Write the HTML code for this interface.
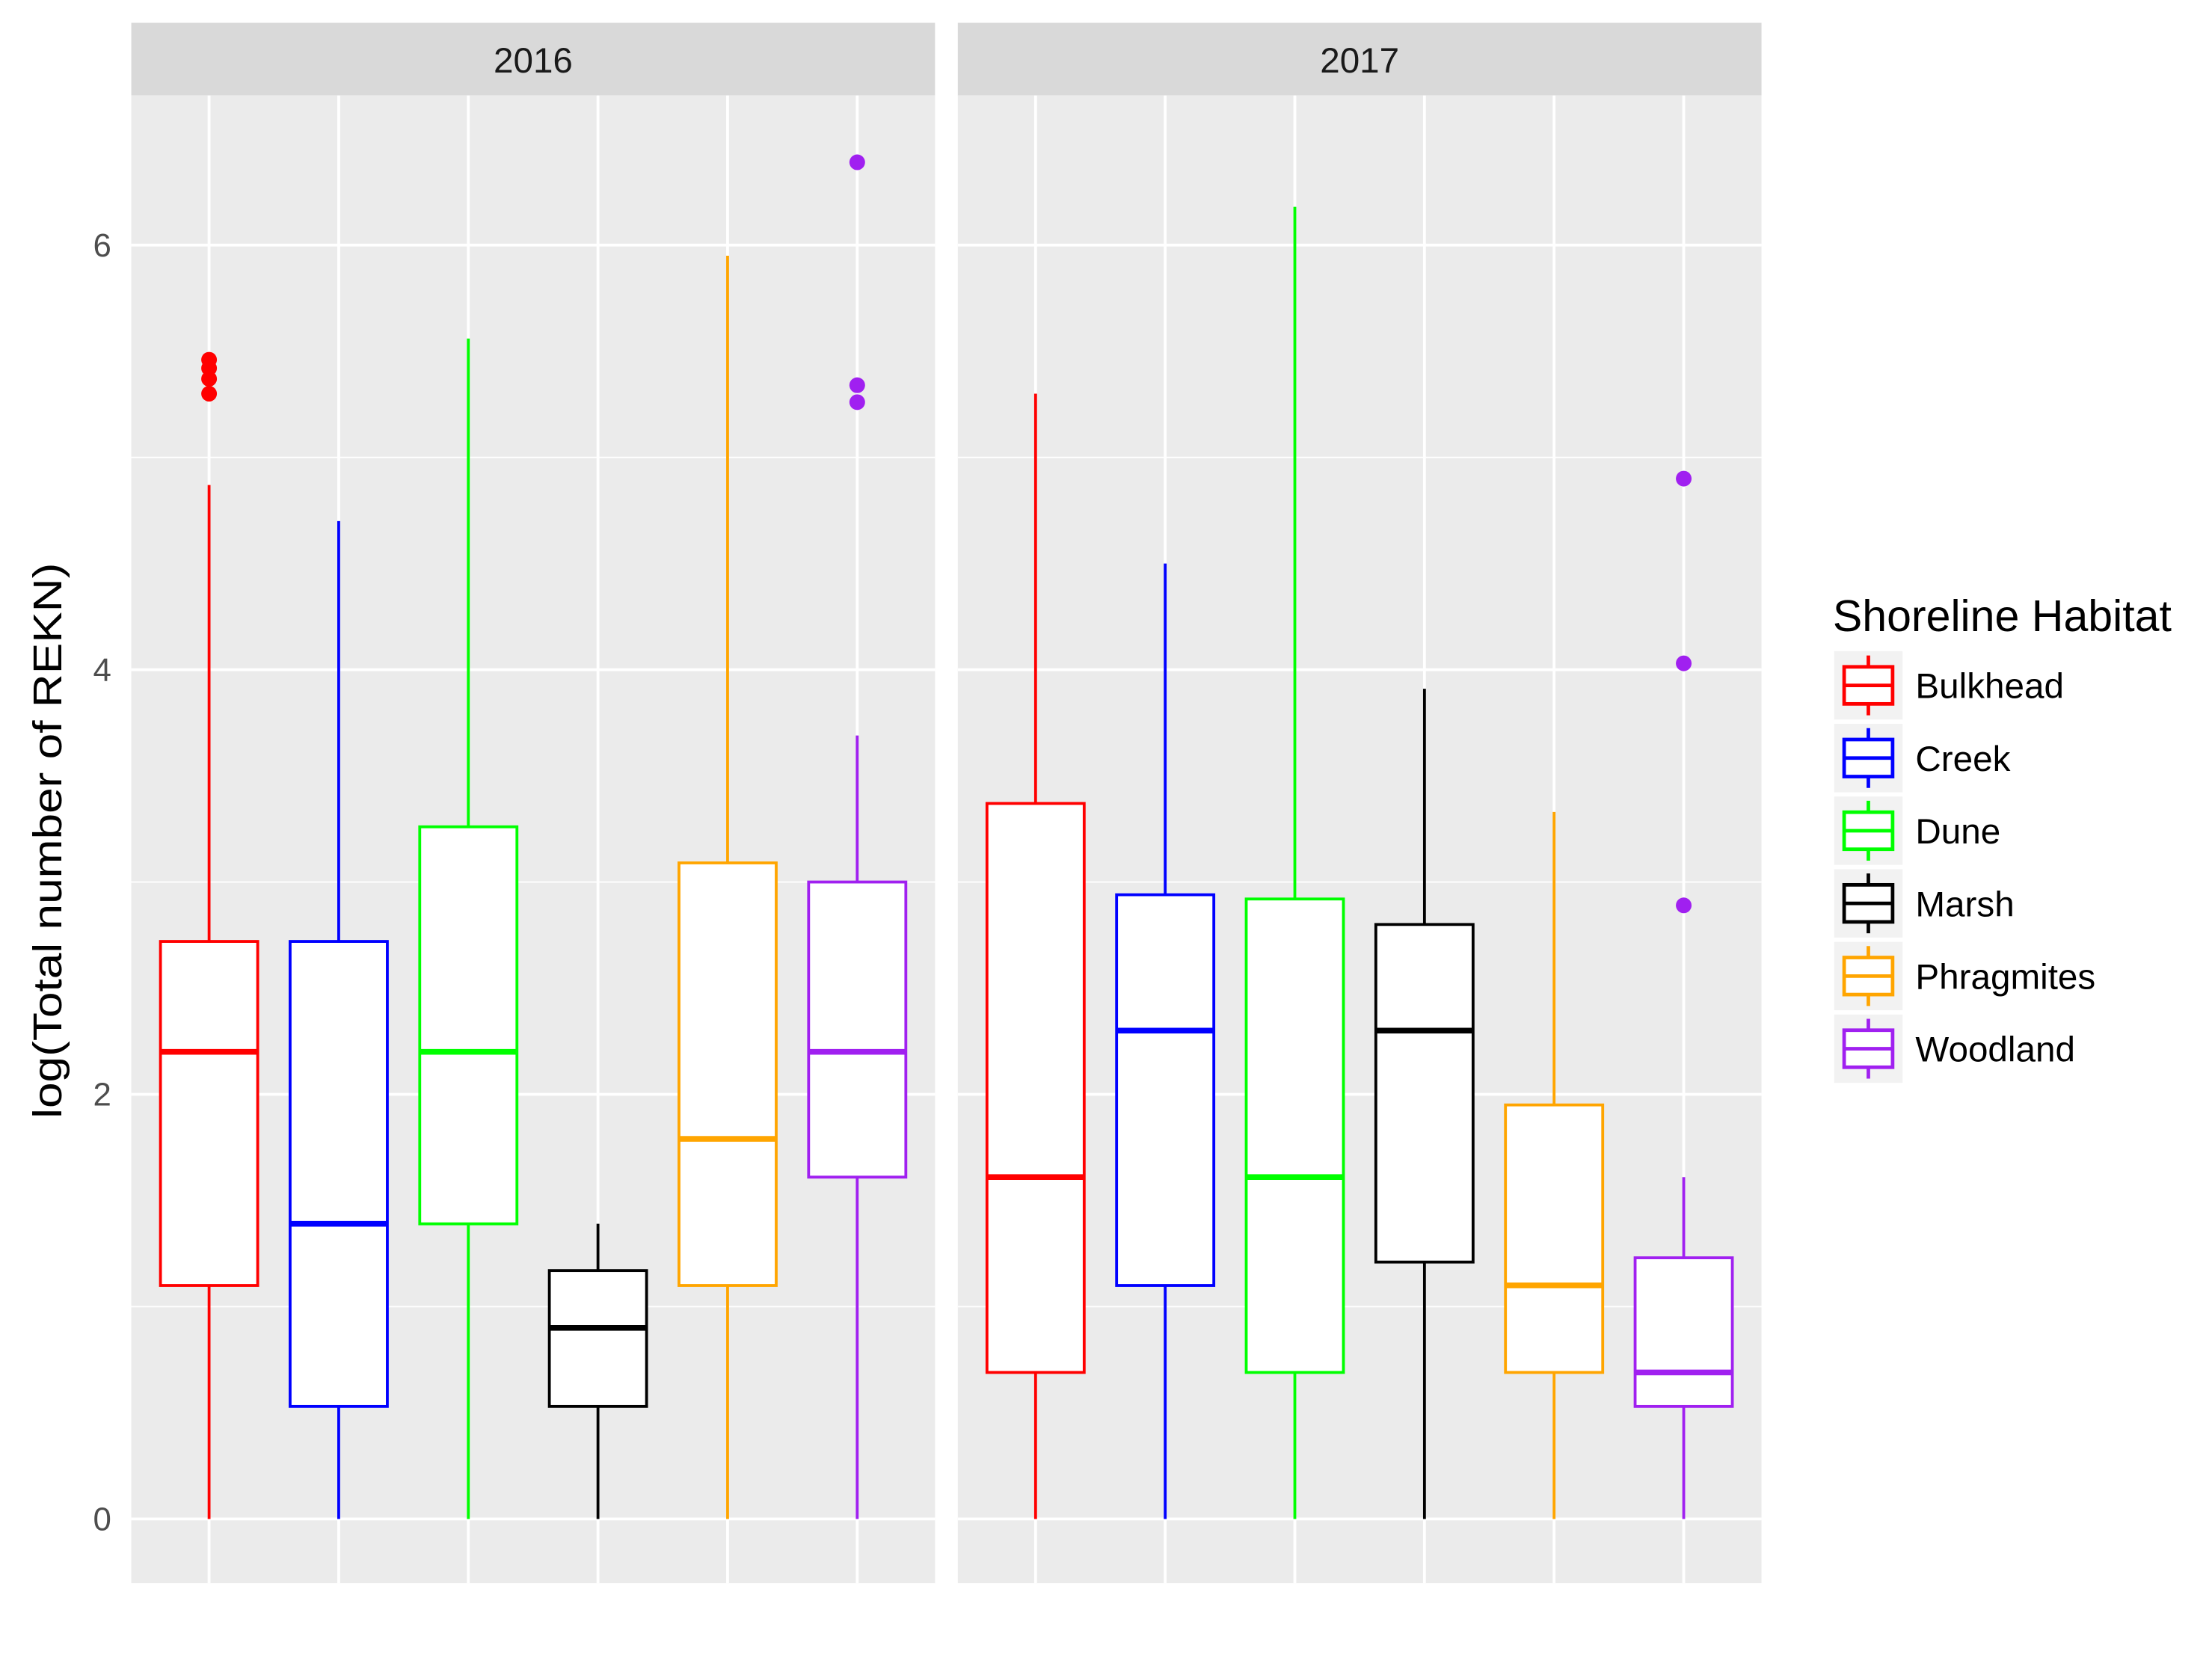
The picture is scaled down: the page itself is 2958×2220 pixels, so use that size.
<!DOCTYPE html>
<html><head><meta charset="utf-8"><style>
html,body{margin:0;padding:0;background:#fff;}
svg{display:block;font-family:"Liberation Sans",Arial,sans-serif;}
</style></head><body>
<svg id="chart" width="2958" height="2220" viewBox="0 0 1552 1165" xmlns="http://www.w3.org/2000/svg">
<rect width="1552" height="1165" fill="#fff"/>
<text transform="translate(43,590) rotate(-90)" text-anchor="middle" font-size="28" textLength="390" lengthAdjust="spacingAndGlyphs" fill="#000">log(Total number of REKN)</text>
<g id="panels"></g>
<g id="legend"></g>
</svg>
<script>
const categories = ["Bulkhead","Creek","Dune","Marsh","Phragmites","Woodland"];
const colors = ["#ff0000","#0000ff","#00ff00","#000000","#ffa500","#a020f0"];
const years = ["2016","2017"];
// [lower whisker, q1, median, q3, upper whisker]
const stats2016 = [[0,1.1,2.2,2.72,4.87],[0,0.53,1.39,2.72,4.70],[0,1.39,2.2,3.26,5.56],[0,0.53,0.90,1.17,1.39],[0,1.1,1.79,3.09,5.95],[0,1.61,2.2,3.0,3.69]];
const stats2017 = [[0,0.69,1.61,3.37,5.30],[0,1.1,2.30,2.94,4.50],[0,0.69,1.61,2.92,6.18],[0,1.21,2.30,2.80,3.91],[0,0.69,1.1,1.95,3.33],[0,0.53,0.69,1.23,1.61]];
const outliers2016 = [[5.30,5.37,5.42,5.46],[],[],[],[],[6.39,5.34,5.26]];
const outliers2017 = [[],[],[],[],[],[4.90,4.03,2.89]];
const yTicks = [0,2,4,6];
const yMinor = [1,3,5];

const NS="http://www.w3.org/2000/svg";
function mk(tag,attrs,parent){const e=document.createElementNS(NS,tag);for(const k in attrs)e.setAttribute(k,attrs[k]);parent.appendChild(e);return e;}
const plotTop=67, plotBot=1111;
function yScale(v){return 1066 - v*149;}
const panelsX=[92,672], panelW=564;
function xScale(p,i){return panelsX[p] + (i+1-0.4)*(panelW/6.2);}
const bw = 0.75*panelW/6.2;
const panels=document.getElementById('panels');
const allStats=[stats2016,stats2017], allOut=[outliers2016,outliers2017];

years.forEach((yr,p)=>{
  const g=mk('g',{},panels);
  
  
  const strip=mk('rect',{x:panelsX[p],y:16,width:panelW,height:51,fill:'#d9d9d9'},g);
  
  
  const st=mk('text',{x:panelsX[p]+panelW/2,y:51,'text-anchor':'middle','font-size':'25',fill:'#1a1a1a'},g);
  st.textContent=yr;
  
  
  const bg=mk('rect',{x:panelsX[p],y:plotTop,width:panelW,height:plotBot-plotTop,fill:'#ebebeb'},g);
  
  
  yMinor.forEach(v=>{const l=mk('line',{x1:panelsX[p],x2:panelsX[p]+panelW,y1:yScale(v),y2:yScale(v),stroke:'#fff','stroke-width':1},g);
    
    });
  yTicks.forEach(v=>{const l=mk('line',{x1:panelsX[p],x2:panelsX[p]+panelW,y1:yScale(v),y2:yScale(v),stroke:'#fff','stroke-width':2},g);
    
    });
  categories.forEach((c,i)=>{const x=xScale(p,i);const l=mk('line',{x1:x,x2:x,y1:plotTop,y2:plotBot,stroke:'#fff','stroke-width':2},g);
    
    });
  categories.forEach((c,i)=>{
    const s=allStats[p][i], x=xScale(p,i), col=colors[i];
    const bg2=mk('g',{},g);
    
    
    mk('line',{x1:x,x2:x,y1:yScale(s[0]),y2:yScale(s[1]),stroke:col,'stroke-width':2},bg2);
    mk('line',{x1:x,x2:x,y1:yScale(s[3]),y2:yScale(s[4]),stroke:col,'stroke-width':2},bg2);
    mk('rect',{x:x-bw/2,y:yScale(s[3]),width:bw,height:yScale(s[1])-yScale(s[3]),fill:'#fff',stroke:col,'stroke-width':2},bg2);
    mk('line',{x1:x-bw/2,x2:x+bw/2,y1:yScale(s[2]),y2:yScale(s[2]),stroke:col,'stroke-width':4},bg2);
    allOut[p][i].forEach(v=>{const d=mk('circle',{cx:x,cy:yScale(v),r:5.5,fill:col},bg2);
      
      });
  });
});
yTicks.forEach(v=>{const t=mk('text',{x:78,y:yScale(v)+8,'text-anchor':'end','font-size':'23',fill:'#4d4d4d'},panels);
  t.textContent=v;
  
  });

const lg=document.getElementById('legend');
const lt=mk('text',{x:1286,y:443,'font-size':'31',fill:'#000'},lg);
lt.textContent='Shoreline Habitat';


categories.forEach((c,i)=>{
  const cy=481+i*51, col=colors[i];
  const e=mk('g',{},lg);
  
  
  mk('rect',{x:1287,y:cy-24,width:48,height:48,fill:'#f2f2f2'},e);
  mk('line',{x1:1311,x2:1311,y1:cy-21,y2:cy+21,stroke:col,'stroke-width':2.5},e);
  mk('rect',{x:1294,y:cy-13,width:34,height:26,fill:'#fff',stroke:col,'stroke-width':2.5},e);
  mk('line',{x1:1294,x2:1328,y1:cy,y2:cy,stroke:col,'stroke-width':2.5},e);
  const t=mk('text',{x:1344,y:cy+9,'font-size':'25',fill:'#000'},e);
  t.textContent=c;
});
</script>
</body></html>
